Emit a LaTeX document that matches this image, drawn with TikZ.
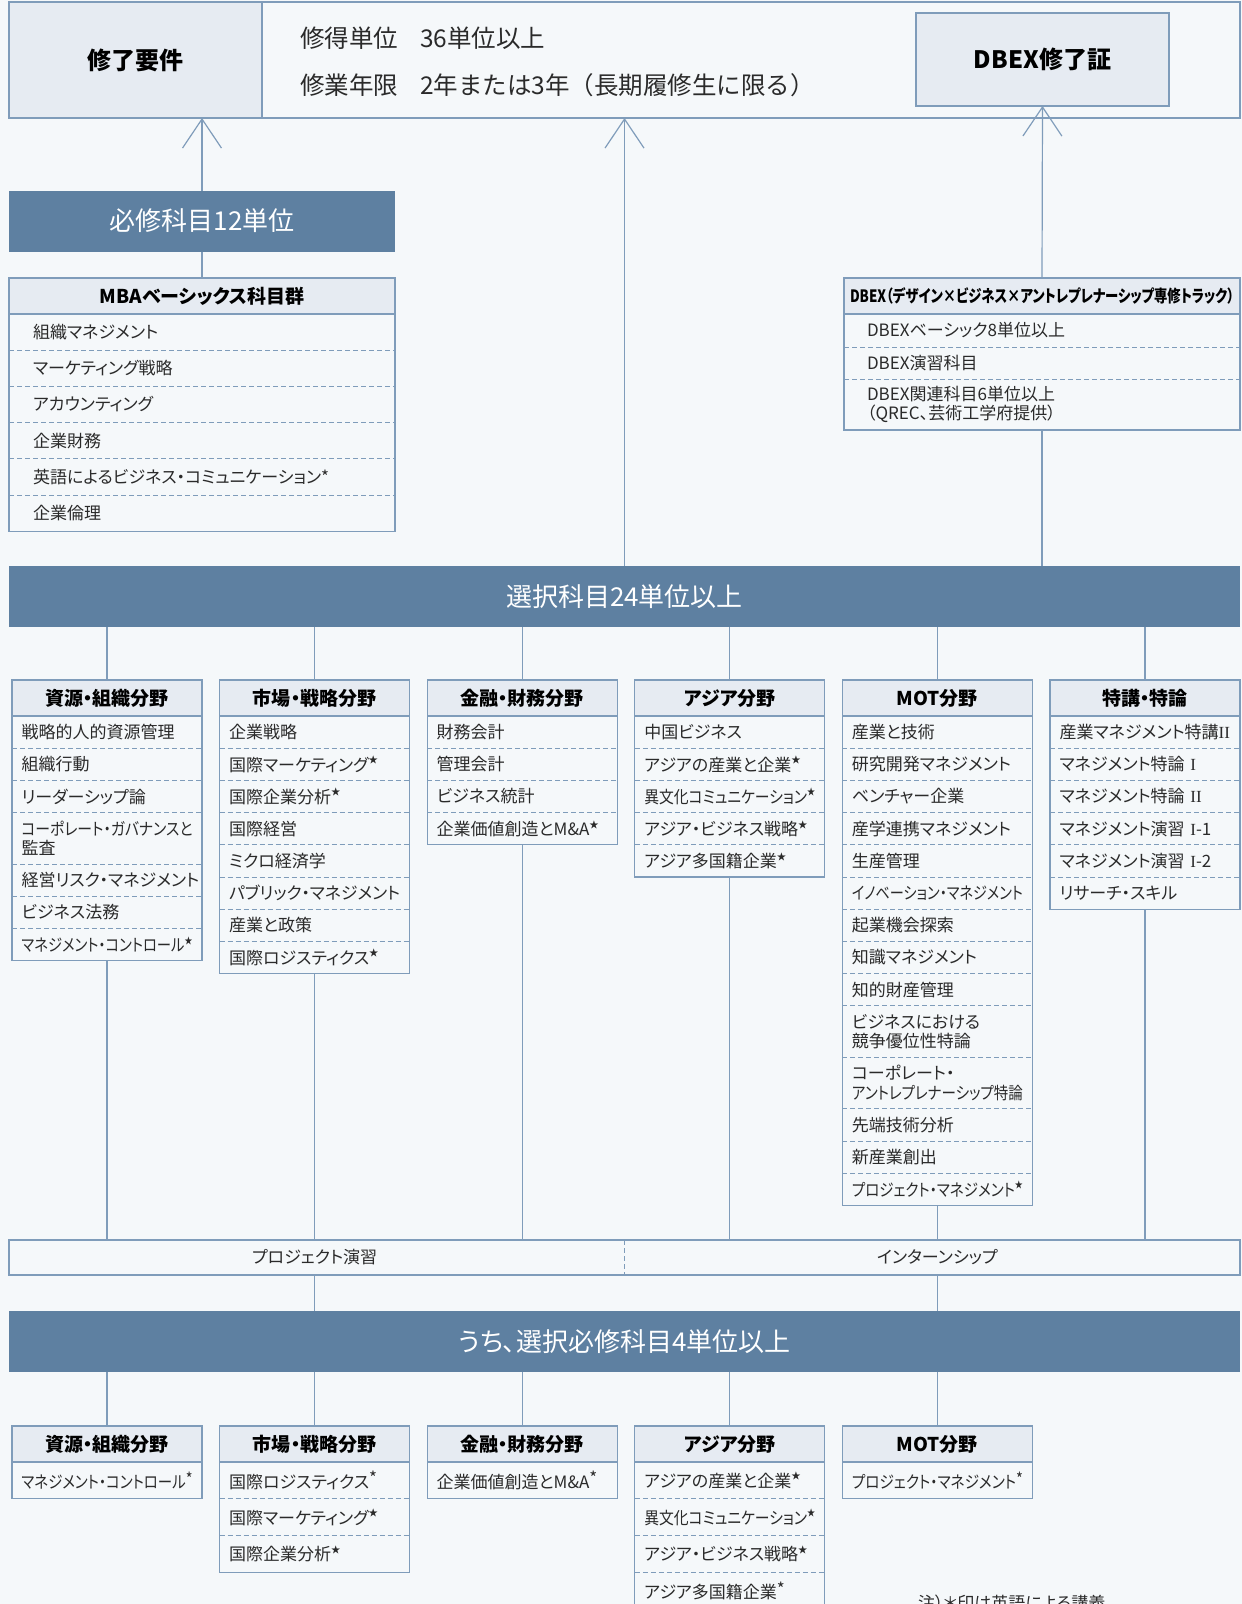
\documentclass[tikz,border=0pt]{standalone}
\usepackage{fontspec}
\usepackage{graphicx}
\setmainfont{Noto Sans CJK JP}[RawFeature=+palt]
\newfontfamily\plainfont{Noto Sans CJK JP}
\newfontfamily\numfont{Liberation Serif}
\usetikzlibrary{positioning,arrows.meta}

\definecolor{bgcol}{HTML}{F5F8FA}
\definecolor{bandcol}{HTML}{5E80A1}
\definecolor{headcol}{HTML}{E6EBF2}
\definecolor{linecol}{HTML}{7F9CBA}
\definecolor{txtcol}{HTML}{2A2A2A}

% small marks after course names
\newcommand\st{\raisebox{0.45em}{\scalebox{0.55}{★}}}
\newcommand\as{\raisebox{0.2em}{*}}
\newcommand\rom[1]{{\numfont #1}}
% squeeze a line into the row when it is too wide
\newsavebox\fitbox
\newcommand\fit[1]{\sbox\fitbox{#1}%
  \ifdim\wd\fitbox>\tw pt\resizebox{\tw pt}{\height}{\usebox\fitbox}\else\usebox\fitbox\fi}

\tikzset{
  frame/.style={draw=linecol, line width=1.2pt},
  link/.style={draw=linecol, line width=1.2pt},
  uparrow/.style={link, -{Straight Barb[length=29pt, width=39pt]}},
  sep/.style={draw=linecol, line width=1pt, dash pattern=on 5pt off 3pt},
  band/.style={fill=bandcol, text=white, inner sep=0pt, outer sep=0pt,
    minimum height=61pt, font=\fontsize{26pt}{30pt}\selectfont},
  colhead/.style={draw=linecol, line width=1.2pt, fill=headcol, inner sep=0pt,
    outer sep=0pt, minimum height=36pt, text=black,
    font=\fontsize{19pt}{22pt}\selectfont\bfseries},
  item/.style={inner ysep=0pt, outer sep=0pt, align=left, text=txtcol,
    font=\fontsize{17pt}{19.5pt}\selectfont},
  toptext/.style={anchor=west, inner sep=0pt, text=txtcol,
    font=\plainfont\fontsize{24.5pt}{28pt}\selectfont}
}

% one field box: name, position of top, width, text pad, title, rows (height/text)
\newcommand\fieldcol[6]{%
  \node[colhead, minimum width=#3pt, anchor=north] (#1-0) at #2 {#5};
  \pgfmathsetmacro\tw{#3-2*#4}
  \foreach \h/\t [count=\i] in {#6} {
    \pgfmathtruncatemacro\j{\i-1}
    \node[item, inner xsep=#4pt, text width=\tw pt, minimum height=\h pt,
      below=0pt of #1-\j] (#1-\i) {\t};
    \ifnum\i>1 \draw[sep] (#1-\i.north west) -- (#1-\i.north east);\fi
    \xdef\lastrow{\i}
  }
  \draw[frame] (#1-0.north west) rectangle (#1-\lastrow.south east);
  \coordinate (#1-end) at (#1-\lastrow.south);
}

\begin{document}
\begin{tikzpicture}[x=1pt, y=-1pt]
  \useasboundingbox (0,0) rectangle (1242,1604);
  \clip (0,0) rectangle (1242,1604);
  \fill[bgcol] (0,0) rectangle (1242,1604);

  % completion requirements
  \node[frame, minimum width=1231pt, minimum height=116pt, outer sep=0pt] (req) at (624.5,60) {};
  \node[colhead, minimum width=253pt, minimum height=116pt, font=\fontsize{24pt}{28pt}\selectfont\bfseries] (reqtitle) at (135.5,60) {修了要件};
  \node[toptext] (units) at (300,38) {修得単位\hspace{0.9em}36単位以上};
  \node[toptext] (years) at (300,85) {修業年限\hspace{0.9em}2年または3年（長期履修生に限る）};
  \node[colhead, minimum width=253pt, minimum height=93pt, font=\fontsize{24pt}{28pt}\selectfont\bfseries] (cert) at (1042.5,59.5) {DBEX修了証};

  % required courses
  \node[band, minimum width=386pt] (core) at (202,221) {必修科目12単位};
  \fieldcol{mba}{(202,278)}{386}{24}{MBAベーシックス科目群}{%
    36.2/組織マネジメント, 36.2/マーケティング戦略, 36.2/アカウンティング,
    36.2/企業財務, 36.2/英語によるビジネス・コミュニケーション*, 36.2/企業倫理}
  \fieldcol{dbex}{(1042,278)}{396}{23}{\fontsize{17pt}{20pt}\selectfont\resizebox{384pt}{\height}{DBEX（デザイン×ビジネス×アントレプレナーシップ専修トラック）}}{%
    33/DBEXベーシック8単位以上, 32/DBEX演習科目,
    51/{DBEX関連科目6単位以上\\（QREC、芸術工学府提供）}}

  \draw[uparrow] (core.north) -- (core.north |- req.south);
  \draw[uparrow] (dbex-0.north) -- (cert.south);
  \draw[link] (core.south) -- (mba-0.north);

  % elective courses
  \node[band, minimum width=1231pt] (sel) at (624.5,596.5) {選択科目24単位以上};
  \draw[uparrow] (sel.north) -- (sel.north |- req.south);
  \draw[link] (dbex-end) -- (dbex-end |- sel.north);

  \fieldcol{c1}{(107,680)}{190}{9.5}{資源・組織分野}{%
    32.2/戦略的人的資源管理, 32.2/組織行動, 32.2/リーダーシップ論,
    51.5/{\fit{コーポレート・ガバナンスと}\\監査}, 32.2/経営リスク・マネジメント,
    32.2/ビジネス法務, 32.2/\fit{マネジメント・コントロール\st}}
  \fieldcol{c2}{(314.6,680)}{190}{9.5}{市場・戦略分野}{%
    32.2/企業戦略, 32.2/国際マーケティング\st, 32.2/国際企業分析\st, 32.2/国際経営,
    32.2/ミクロ経済学, 32.2/\fit{パブリック・マネジメント}, 32.2/産業と政策,
    32.2/国際ロジスティクス\st}
  \fieldcol{c3}{(522.2,680)}{190}{9.5}{金融・財務分野}{%
    32.2/財務会計, 32.2/管理会計, 32.2/ビジネス統計, 32.2/\fit{企業価値創造とM\&A\st}}
  \fieldcol{c4}{(729.8,680)}{190}{9.5}{アジア分野}{%
    32.2/中国ビジネス, 32.2/アジアの産業と企業\st, 32.2/\fit{異文化コミュニケーション\st},
    32.2/アジア・ビジネス戦略\st, 32.2/アジア多国籍企業\st}
  \fieldcol{c5}{(937.4,680)}{190}{9.5}{MOT分野}{%
    32.2/産業と技術, 32.2/研究開発マネジメント, 32.2/ベンチャー企業,
    32.2/産学連携マネジメント, 32.2/生産管理, 32.2/\fit{イノベーション・マネジメント},
    32.2/起業機会探索, 32.2/知識マネジメント, 32.2/知的財産管理,
    51.5/{ビジネスにおける\\競争優位性特論}, 51.5/{コーポレート・\\\fit{アントレプレナーシップ特論}},
    32.2/先端技術分析, 32.2/新産業創出, 32.2/\fit{プロジェクト・マネジメント\st}}
  \fieldcol{c6}{(1145,680)}{190}{9.5}{特講・特論}{%
    32.2/\fit{産業マネジメント特講\rom{II}}, 32.2/マネジメント特論 \rom{I},
    32.2/マネジメント特論 \rom{II}, 32.2/マネジメント演習 \rom{I}-1,
    32.2/マネジメント演習 \rom{I}-2, 32.2/リサーチ・スキル}

  % project and internship
  \node[frame, minimum width=1231pt, minimum height=35pt, outer sep=0pt] (bar) at (624.5,1257.5) {};
  \draw[sep] (bar.north) -- (bar.south);
  \node[item] (proj) at (314.6,1257.5) {プロジェクト演習};
  \node[item] (intern) at (937.4,1257.5) {インターンシップ};
  \foreach \i in {1,...,6} {
    \draw[link] (sel.south -| c\i-0.north) -- (c\i-0.north);
    \draw[link] (c\i-end) -- (c\i-end |- bar.north);
  }

  % selective required courses
  \node[band, minimum width=1231pt] (must) at (624.5,1341.5) {うち、選択必修科目4単位以上};
  \draw[link] (proj |- bar.south) -- (proj |- must.north);
  \draw[link] (intern |- bar.south) -- (intern |- must.north);

  \fieldcol{b1}{(107,1426)}{190}{9.5}{資源・組織分野}{36.8/\fit{マネジメント・コントロール\as}}
  \fieldcol{b2}{(314.6,1426)}{190}{9.5}{市場・戦略分野}{%
    36.8/国際ロジスティクス\as, 36.8/国際マーケティング\st, 36.8/国際企業分析\st}
  \fieldcol{b3}{(522.2,1426)}{190}{9.5}{金融・財務分野}{36.8/\fit{企業価値創造とM\&A\as}}
  \fieldcol{b4}{(729.8,1426)}{190}{9.5}{アジア分野}{%
    36.8/アジアの産業と企業\st, 36.8/\fit{異文化コミュニケーション\st},
    36.8/アジア・ビジネス戦略\st, 36.8/アジア多国籍企業\as}
  \fieldcol{b5}{(937.4,1426)}{190}{9.5}{MOT分野}{36.8/\fit{プロジェクト・マネジメント\as}}
  \foreach \i in {1,...,5}
    \draw[link] (must.south -| b\i-0.north) -- (b\i-0.north);

  \node[item, anchor=base west, inner sep=0pt] (note) at (918,1609) {注）＊印は英語による講義};
\end{tikzpicture}
\end{document}
